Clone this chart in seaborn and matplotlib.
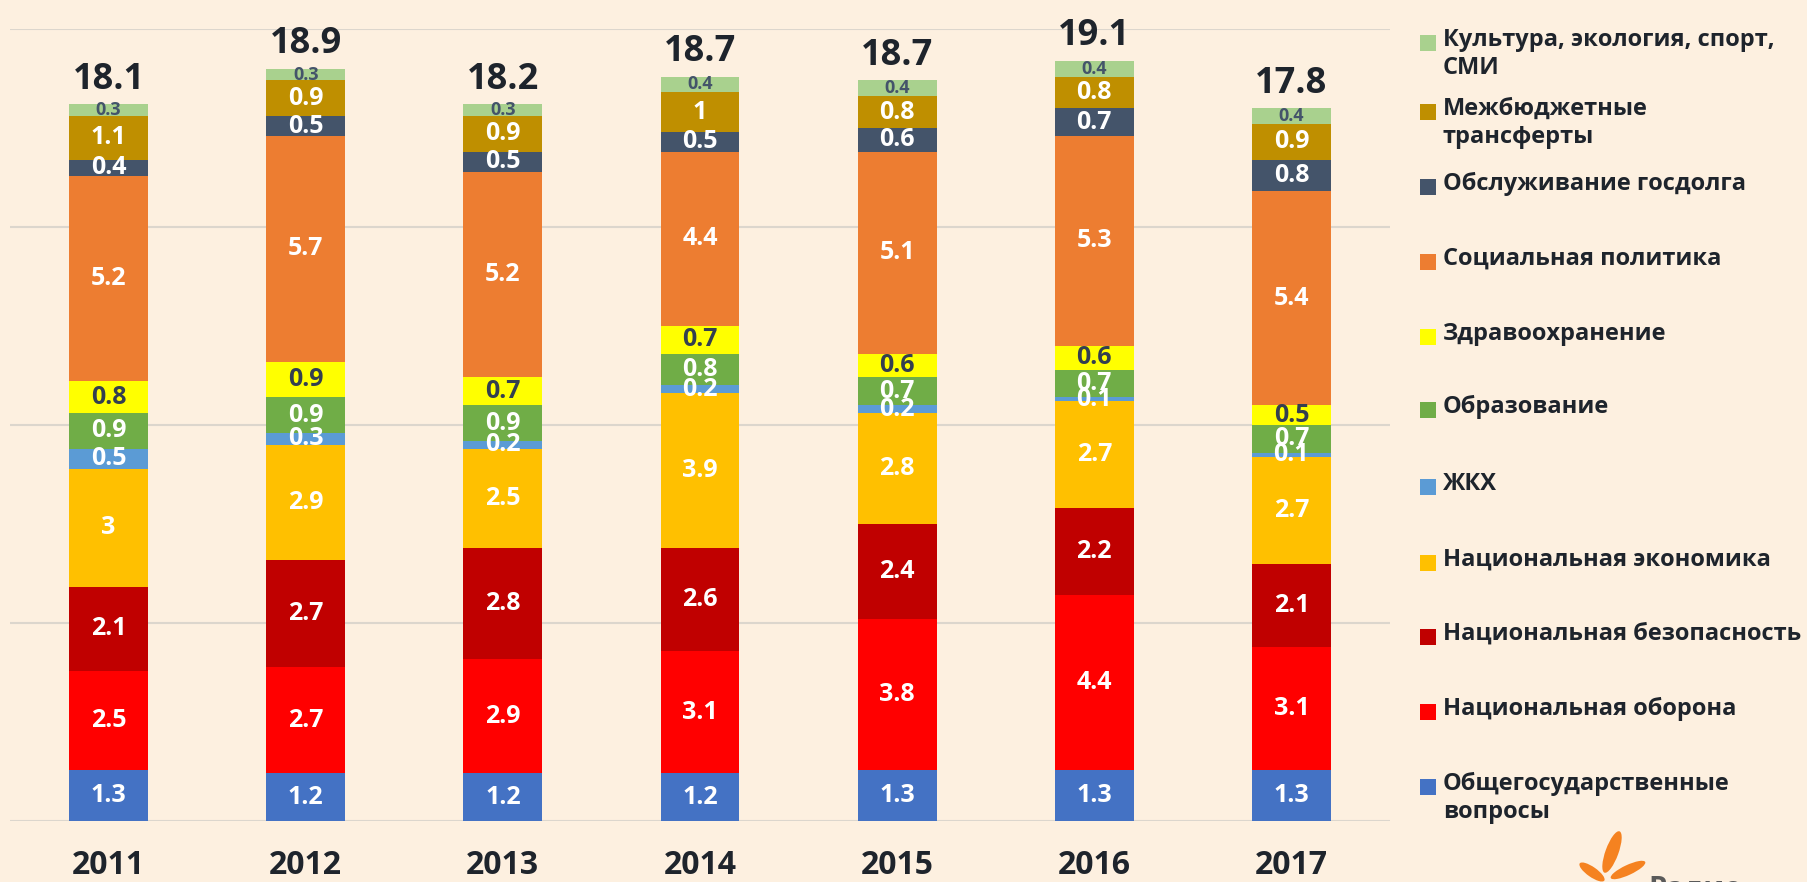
import numpy as np
import pandas as pd
import seaborn as sns
import matplotlib.pyplot as plt
from matplotlib.patches import Rectangle, Ellipse
from matplotlib.transforms import IdentityTransform

sns.set_theme(style="white")
plt.rcParams["font.family"] = ["Open Sans", "DejaVu Sans"]
plt.rcParams["font.weight"] = "bold"

BG = "#FDF0E0"

years = ["2011", "2012", "2013", "2014", "2015", "2016", "2017"]
totals = ["18.1", "18.9", "18.2", "18.7", "18.7", "19.1", "17.8"]

# categories bottom -> top of each bar
categories = [
    "Общегосударственные\nвопросы",
    "Национальная оборона",
    "Национальная безопасность",
    "Национальная экономика",
    "ЖКХ",
    "Образование",
    "Здравоохранение",
    "Социальная политика",
    "Обслуживание госдолга",
    "Межбюджетные\nтрансферты",
    "Культура, экология, спорт,\nСМИ",
]
colors = ["#4472C4", "#FF0000", "#C00000", "#FFC000", "#5B9BD5", "#70AD47",
          "#FFFF00", "#ED7D31", "#44546A", "#BF8F00", "#A9D18E"]

general = [1.3, 1.2, 1.2, 1.2, 1.3, 1.3, 1.3]
defence = [2.5, 2.7, 2.9, 3.1, 3.8, 4.4, 3.1]
security = [2.1, 2.7, 2.8, 2.6, 2.4, 2.2, 2.1]
economy = [3, 2.9, 2.5, 3.9, 2.8, 2.7, 2.7]
housing = [0.5, 0.3, 0.2, 0.2, 0.2, 0.1, 0.1]
education = [0.9, 0.9, 0.9, 0.8, 0.7, 0.7, 0.7]
health = [0.8, 0.9, 0.7, 0.7, 0.6, 0.6, 0.5]
social = [5.2, 5.7, 5.2, 4.4, 5.1, 5.3, 5.4]
debt = [0.4, 0.5, 0.5, 0.5, 0.6, 0.7, 0.8]
transfers = [1.1, 0.9, 0.9, 1, 0.8, 0.8, 0.9]
culture = [0.3, 0.3, 0.3, 0.4, 0.4, 0.4, 0.4]

values = np.array([general, defence, security, economy, housing, education,
                   health, social, debt, transfers, culture])
cum = values.cumsum(axis=0)

W, H = 1808, 882
fig = plt.figure(figsize=(W / 100, H / 100), dpi=100, facecolor=BG)
ax = fig.add_axes([10 / W, 61 / H, 1380 / W, 792 / H])
ax.set_facecolor(BG)

# stacked bars: draw cumulative heights from the top layer down
for i in range(len(categories) - 1, -1, -1):
    sns.barplot(x=years, y=cum[i], color=colors[i], saturation=1, width=0.4,
                linewidth=0, errorbar=None, ax=ax)

ax.set_ylim(0, 20)
ax.set_xlim(-0.5, 6.5)
ax.set_yticks([0, 5, 10, 15, 20])
ax.yaxis.grid(True, color="#DCD6CD", linewidth=1.5)
ax.set_axisbelow(True)
ax.set_yticklabels([])
ax.set_ylabel("")
ax.tick_params(axis="x", length=0, pad=20, labelsize=23, labelcolor="#1E242C")
ax.tick_params(axis="y", length=0)
for s in ax.spines.values():
    s.set_visible(False)

# segment labels
for i in range(len(categories)):
    if i == 10:
        col, fs = "#44546A", 13
    elif i == 6:
        col, fs = "#333F50", 18
    else:
        col, fs = "white", 18
    for j in range(len(years)):
        ax.text(j, cum[i, j] - values[i, j] / 2, f"{values[i, j]:g}", ha="center",
                va="center", color=col, fontsize=fs, fontweight="bold")

# totals
for j in range(len(years)):
    ax.annotate(totals[j], (j, cum[-1, j]), xytext=(0, 11), textcoords="offset points",
                ha="center", va="baseline", fontsize=26, fontweight="bold",
                color="#1E242C", annotation_clip=False)

# legend, top entry first
leg_y = [43, 112, 187, 262, 337, 410, 487, 563, 637, 712, 787]
for k, i in enumerate(range(len(categories) - 1, -1, -1)):
    yc = leg_y[k]
    fig.add_artist(Rectangle((1420 / W, 1 - (yc + 8) / H), 16 / W, 16 / H,
                             transform=fig.transFigure, color=colors[i], lw=0))
    fig.text(1443 / W, 1 - (yc - 15) / H, categories[i], ha="left", va="top",
             fontsize=17, fontweight="bold", color="#1E242C", linespacing=1.2)

# logo
for cx, cy, w, h, a in [(1612, 30, 13, 44, -20), (1628, 12, 10, 38, -65), (1592, 10, 10, 30, 55)]:
    fig.add_artist(Ellipse((cx, cy), w, h, angle=a, transform=IdentityTransform(),
                           color="#F58220", lw=0))
fig.text(1648 / W, 1 - 874 / H, "Радио", ha="left", va="top", fontsize=21,
         fontweight="bold", color="#5A5A5A")

fig.savefig("out.png", dpi=100, facecolor=BG)
